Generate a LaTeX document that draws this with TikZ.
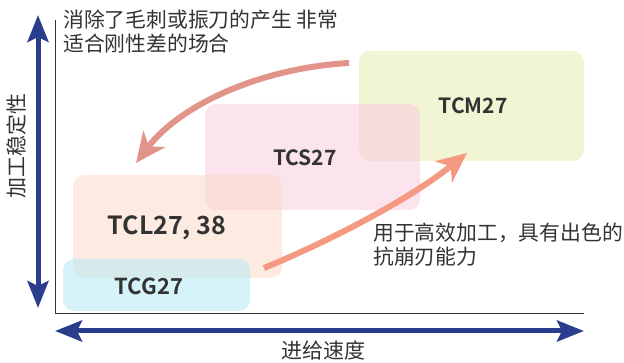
\documentclass[tikz,border=0pt]{standalone}
\usepackage{fontspec}
\setmainfont{Noto Sans}
\newfontfamily\cjk{Noto Sans CJK SC}
\newfontfamily\cjkb{Noto Sans CJK SC Bold}
\usetikzlibrary{arrows.meta}
\definecolor{axisblue}{HTML}{2B3E8E}
\definecolor{roseA}{HTML}{E2948A}
\definecolor{salmonB}{HTML}{F49A82}
\definecolor{txt}{HTML}{333333}
\definecolor{cM}{HTML}{E6EDB0}
\definecolor{cS}{HTML}{F8CDE0}
\definecolor{cL}{HTML}{FCD9C8}
\definecolor{cG}{HTML}{B6EAF5}
\tikzset{
  zone/.style={rounded corners=11pt, draw=none, fill opacity=0.55},
  lbl/.style={font=\cjkb\fontsize{#1}{#1}\selectfont, text=txt},
  note/.style={font=\cjk\fontsize{#1}{24}\selectfont, text=txt, align=left, inner sep=0pt, anchor=north west},
  axisarrow/.style={draw=axisblue, line width=5pt, {Stealth[length=27pt,width=21pt,inset=5pt]}-{Stealth[length=27pt,width=21pt,inset=5pt]}},
  axisline/.style={draw=txt, line width=0.8pt},
  flow/.style={line width=6pt, -{Stealth[length=30pt,width=27pt,inset=9pt]}},
}
\begin{document}
\begin{tikzpicture}[x=1pt,y=-1pt]
\useasboundingbox (0,0) rectangle (624,363);
% zones
\fill[zone, cM] (359,51) rectangle (584,161);
\fill[zone, cS] (205,104) rectangle (420,210);
\fill[zone, cL] (73,175) rectangle (282,278);
\fill[zone, cG] (63,259) rectangle (250,311);
\node[lbl=21] (tcm) at (473,106) {TCM27};
\node[lbl=21] (tcs) at (305,158) {TCS27};
\node[lbl=25] (tcl) at (167,228) {TCL27, 38};
\node[lbl=22] (tcg) at (149,286) {TCG27};
% axes
\coordinate (o) at (55,313);
\coordinate (ytop) at (55,20);
\coordinate (xend) at (584,313);
\draw[axisline] (ytop) -- (o) -- (xend);
\coordinate (ya) at (38,15);
\coordinate (yb) at (38,308);
\draw[axisarrow] (ya) -- (yb);
\coordinate (xa) at (55,331);
\coordinate (xb) at (584,331);
\draw[axisarrow] (xa) -- (xb);
\node[font=\cjk\fontsize{21}{21}\selectfont, text=txt, rotate=90] (ylab) at (16,146) {加工稳定性};
\node[font=\cjk\fontsize{21}{21}\selectfont, text=txt] (xlab) at (323,350) {进给速度};
% notes
\node[note=20.8] (n1) at (63,10) {消除了毛刺或振刀的产生 非常\\适合刚性差的场合};
\node[note=20.8] (n2) at (373,223) {用于高效加工，具有出色的\\抗崩刃能力};
% flows
\coordinate (a1) at (349,63);
\coordinate (a2) at (136,163);
\draw[flow, draw=roseA] (a1) .. controls (260,68) and (180,105) .. (a2);
\coordinate (b1) at (264,268);
\coordinate (b2) at (467,153);
\draw[flow, draw=salmonB] (b1) .. controls (320,245) and (405,203) .. (b2);
\end{tikzpicture}
\end{document}
